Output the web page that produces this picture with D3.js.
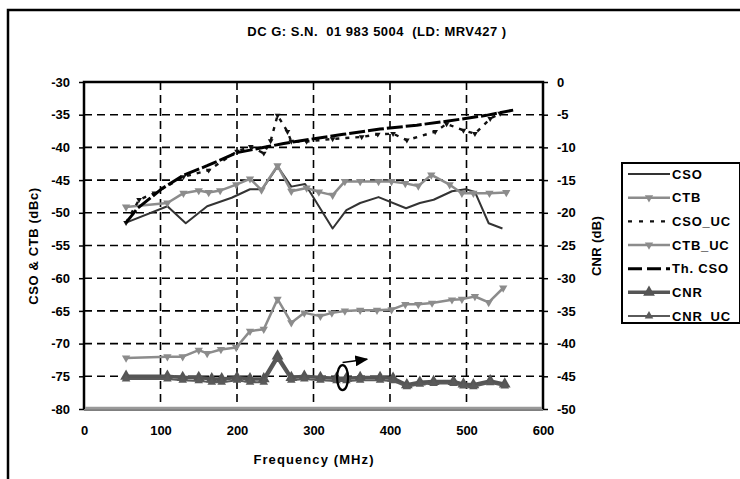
<!DOCTYPE html>
<html>
<head>
<meta charset="utf-8">
<script src="https://cdn.jsdelivr.net/npm/d3@7"></script>
<style>
  body { margin: 0; background: #fff; }
  svg text { font-family: "Liberation Sans", Arial, sans-serif; font-weight: bold; fill: #000; }
</style>
</head>
<body>
<svg id="chart" width="740" height="479"></svg>
<script>
// Data (frequency in MHz, levels in dBc / dB)
const csoFreq = [55, 109, 133, 161, 193, 217, 233, 253, 271, 289, 325, 343, 361, 385, 421, 439, 457, 481, 499, 511, 529, 547];
const csoVal = [-51.5, -49.0, -51.6, -49.0, -47.7, -46.4, -46.4, -42.9, -46.0, -45.6, -52.4, -49.6, -48.5, -47.6, -49.3, -48.5, -48.0, -46.7, -46.4, -46.8, -51.6, -52.4];

const ctbFreq = [55, 109, 130, 150, 163, 178, 199, 217, 232, 253, 271, 291, 307, 325, 341, 361, 385, 402, 420, 437, 454, 478, 494, 509, 530, 552];
const ctbVal = [-49.1, -48.5, -47.0, -46.6, -46.9, -46.6, -45.7, -44.8, -46.5, -42.8, -46.7, -46.2, -46.8, -47.3, -45.2, -45.2, -45.2, -45.2, -45.5, -45.9, -44.2, -45.7, -47.0, -47.0, -47.0, -46.9];

const csoUcFreq = [55, 72, 92, 130, 163, 200, 218, 235, 244, 253, 266, 271, 291, 325, 363, 384, 404, 422, 459, 474, 496, 511, 531, 544];
const csoUcVal = [-51.5, -48.0, -47.0, -44.5, -43.5, -40.6, -39.9, -40.9, -39.0, -35.1, -37.6, -39.1, -39.1, -38.7, -38.4, -38.0, -37.9, -38.9, -37.6, -36.4, -37.4, -37.9, -35.6, -34.8];

const ctbUcFreq = [55, 109, 129, 150, 161, 179, 199, 217, 235, 253, 271, 288, 309, 324, 341, 361, 383, 402, 420, 437, 455, 481, 494, 511, 529, 548];
const ctbUcVal = [-72.2, -72.0, -72.0, -71.0, -71.5, -70.9, -70.6, -68.1, -67.8, -63.2, -66.8, -65.3, -65.8, -65.3, -65.0, -64.9, -64.9, -64.8, -64.0, -64.0, -63.8, -63.3, -63.2, -62.8, -63.7, -61.5];

const thCsoFreq = [55, 70, 102, 131, 161, 200, 244, 261, 305, 339, 387, 435, 474, 526, 561];
const thCsoVal = [-51.5, -49.3, -46.3, -44.2, -42.8, -40.8, -39.8, -39.4, -38.6, -38.0, -37.2, -36.6, -36.0, -35.1, -34.3];

const cnrFreq = [55, 109, 129, 150, 167, 180, 200, 217, 235, 253, 271, 288, 309, 330, 343, 361, 387, 404, 422, 439, 457, 483, 496, 509, 531, 550];
const cnrVal = [-45.0, -45.0, -45.2, -45.2, -45.4, -45.4, -45.2, -45.4, -45.4, -41.9, -45.2, -45.0, -45.2, -45.3, -45.3, -45.2, -45.2, -45.3, -46.3, -45.9, -45.8, -45.8, -46.2, -46.3, -45.7, -46.2];
const cnrUcVal = [-45.4, -45.4, -45.6, -45.7, -45.9, -45.9, -45.6, -45.9, -45.9, -42.4, -45.6, -45.4, -45.6, -45.7, -45.7, -45.6, -45.6, -45.7, -46.6, -46.2, -46.1, -46.1, -46.5, -46.6, -46.0, -46.5];

const xTicks = [0, 100, 200, 300, 400, 500, 600];
const leftTicks = [-30, -35, -40, -45, -50, -55, -60, -65, -70, -75, -80];
const rightTicks = [0, -5, -10, -15, -20, -25, -30, -35, -40, -45, -50];
const legendNames = ["CSO", "CTB", "CSO_UC", "CTB_UC", "Th. CSO", "CNR", "CNR_UC"];

const svg = d3.select("#chart");

// outer frame (cut off at right/bottom like the original)
svg.append("rect")
    .attr("x", 8).attr("y", 10)
    .attr("width", 760).attr("height", 500)
    .attr("fill", "none").attr("stroke", "#000").attr("stroke-width", 2.5);

const plot = { left: 84, top: 82, right: 543, bottom: 409 };

const x = d3.scaleLinear().domain([0, 600]).range([plot.left, plot.right]);
const yL = d3.scaleLinear().domain([-80, -30]).range([plot.bottom, plot.top]);
const yR = d3.scaleLinear().domain([-50, 0]).range([plot.bottom, plot.top]);

// title
svg.append("text")
    .attr("x", 377).attr("y", 36)
    .attr("text-anchor", "middle")
    .attr("font-size", "13px")
    .attr("letter-spacing", "0.5px")
    .attr("xml:space", "preserve")
    .text("DC G: S.N.  01 983 5004  (LD: MRV427 )");

// grid lines
const grid = svg.append("g")
    .attr("stroke", "#000").attr("stroke-width", 1.6).attr("stroke-dasharray", "8,5");
grid.selectAll(".hg").data(leftTicks.filter(d => d > -80 && d < -30)).enter()
    .append("line")
    .attr("x1", plot.left).attr("x2", plot.right)
    .attr("y1", d => yL(d)).attr("y2", d => yL(d));
grid.selectAll(".vg").data(xTicks.filter(d => d > 0 && d < 600)).enter()
    .append("line")
    .attr("y1", plot.top).attr("y2", plot.bottom)
    .attr("x1", d => x(d)).attr("x2", d => x(d));

// axes (plain hyphen for minus, as in the original)
const fmt = d => String(d);
const axisStyle = g => {
    g.select(".domain").remove();
    g.selectAll("line").attr("stroke", "#000").attr("stroke-width", 1.5);
    g.selectAll("text").attr("font-size", "13px").attr("font-family", "Liberation Sans, Arial, sans-serif").attr("font-weight", "bold");
};
svg.append("g")
    .attr("transform", `translate(${plot.left},0)`)
    .call(d3.axisLeft(yL).tickValues(leftTicks).tickSize(5).tickPadding(9).tickFormat(fmt))
    .call(axisStyle);
svg.append("g")
    .attr("transform", `translate(${plot.right},0)`)
    .call(d3.axisRight(yR).tickValues(rightTicks).tickSize(5).tickPadding(9).tickFormat(fmt))
    .call(axisStyle);
svg.append("g")
    .attr("transform", `translate(0,${plot.bottom})`)
    .call(d3.axisBottom(x).tickValues(xTicks).tickSize(0).tickPadding(17).tickFormat(fmt))
    .call(axisStyle);

// plot frame
svg.append("path")
    .attr("d", `M${plot.left},${plot.bottom}V${plot.top}H${plot.right}V${plot.bottom}`)
    .attr("fill", "none").attr("stroke", "#000").attr("stroke-width", 2.5);
svg.append("line")
    .attr("x1", plot.left).attr("x2", plot.right)
    .attr("y1", plot.bottom + 1).attr("y2", plot.bottom + 1)
    .attr("stroke", "#000").attr("stroke-width", 1);
svg.append("line")
    .attr("x1", plot.left + 1).attr("x2", plot.right - 1)
    .attr("y1", plot.bottom - 1).attr("y2", plot.bottom - 1)
    .attr("stroke", "#999").attr("stroke-width", 2.5);

// axis titles
svg.append("text")
    .attr("transform", `translate(38,246) rotate(-90)`)
    .attr("text-anchor", "middle").attr("font-size", "13px")
    .attr("letter-spacing", "0.6px")
    .text("CSO & CTB (dBc)");
svg.append("text")
    .attr("transform", `translate(601,246) rotate(-90)`)
    .attr("text-anchor", "middle").attr("font-size", "13px")
    .attr("letter-spacing", "0.3px")
    .text("CNR (dB)");
svg.append("text")
    .attr("x", 314).attr("y", 464)
    .attr("text-anchor", "middle").attr("font-size", "13px")
    .attr("letter-spacing", "1.1px")
    .text("Frequency (MHz)");

// series
const series = [
    { name: "CSO", f: csoFreq, v: csoVal, y: yL, color: "#333", width: 2, dash: null, marker: null },
    { name: "CTB", f: ctbFreq, v: ctbVal, y: yL, color: "#8c8c8c", width: 2.5, dash: null, marker: "down", msize: 30 },
    { name: "CSO_UC", f: csoUcFreq, v: csoUcVal, y: yL, color: "#111", width: 2.4, dash: "4,6", marker: "down", msize: 14 },
    { name: "CTB_UC", f: ctbUcFreq, v: ctbUcVal, y: yL, color: "#8c8c8c", width: 2.5, dash: null, marker: "down", msize: 30 },
    { name: "Th. CSO", f: thCsoFreq, v: thCsoVal, y: yL, color: "#000", width: 3, dash: "16,3", marker: null },
    { name: "CNR", f: cnrFreq, v: cnrVal, y: yR, color: "#555", width: 3.5, dash: null, marker: "up", msize: 60 },
    { name: "CNR_UC", f: cnrFreq, v: cnrUcVal, y: yR, color: "#5a5a5a", width: 2, dash: null, marker: "up", msize: 32 }
];

const line = d3.line();
series.forEach(s => {
    const pts = s.f.map((f, i) => [x(f), s.y(s.v[i])]);
    svg.append("path")
        .attr("d", line(pts))
        .attr("fill", "none")
        .attr("stroke", s.color)
        .attr("stroke-width", s.width)
        .attr("stroke-dasharray", s.dash)
        .attr("stroke-linejoin", "round");
    if (s.marker) {
        const sym = d3.symbol().type(d3.symbolTriangle).size(s.msize);
        svg.append("g").selectAll("path").data(pts).enter()
            .append("path")
            .attr("d", sym)
            .attr("transform", d => `translate(${d[0]},${d[1]})${s.marker === "down" ? " rotate(180)" : ""}`)
            .attr("fill", s.color);
    }
});

// ellipse + arrow pointing to right axis
svg.append("ellipse")
    .attr("cx", x(338)).attr("cy", yR(-45.2))
    .attr("rx", 5.5).attr("ry", 12.5)
    .attr("fill", "none").attr("stroke", "#000").attr("stroke-width", 2.2);
svg.append("defs").append("marker")
    .attr("id", "arrow").attr("viewBox", "0 0 10 10")
    .attr("refX", 9).attr("refY", 5)
    .attr("markerWidth", 13).attr("markerHeight", 11)
    .attr("markerUnits", "userSpaceOnUse")
    .attr("orient", "auto")
    .attr("preserveAspectRatio", "none")
    .append("path").attr("d", "M0,0L10,5L0,10z").attr("fill", "#000");
svg.append("line")
    .attr("x1", x(338)).attr("y1", yR(-42.9))
    .attr("x2", x(370)).attr("y2", yR(-42.4))
    .attr("stroke", "#000").attr("stroke-width", 1.5)
    .attr("marker-end", "url(#arrow)");

// legend
const lg = svg.append("g").attr("transform", "translate(622,163)");
lg.append("rect")
    .attr("width", 118).attr("height", 160)
    .attr("fill", "#fff").attr("stroke", "#000").attr("stroke-width", 2);
const rowY = d3.scalePoint().domain(legendNames).range([11, 153]);
legendNames.forEach(name => {
    const s = series.find(d => d.name === name);
    const yy = rowY(name);
    lg.append("line")
        .attr("x1", 6).attr("x2", 48).attr("y1", yy).attr("y2", yy)
        .attr("stroke", s.color).attr("stroke-width", s.width)
        .attr("stroke-dasharray", s.name === "CSO_UC" ? "4,7" : s.name === "Th. CSO" ? "14,5" : null);
    if (s.marker && s.name !== "CSO_UC") {
        lg.append("path")
            .attr("d", d3.symbol().type(d3.symbolTriangle).size(s.msize)())
            .attr("transform", `translate(27,${yy})${s.marker === "down" ? " rotate(180)" : ""}`)
            .attr("fill", s.color);
    }
    lg.append("text")
        .attr("x", 50).attr("y", yy + 4.5)
        .attr("font-size", "13px")
        .attr("letter-spacing", "0.8px")
        .text(name);
});
</script>
</body>
</html>
